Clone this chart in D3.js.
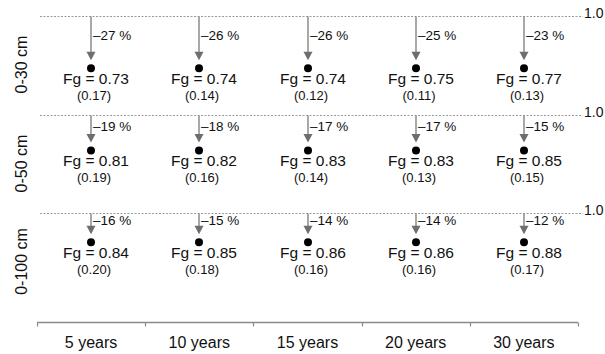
<!DOCTYPE html>
<html lang="en">
<head>
  <meta charset="UTF-8">
  <title>Fg by depth and period</title>
  <script src="https://d3js.org/d3.v7.min.js"></script>
  <style>
    body { margin: 0; background: #fff; }
    text { font-family: "Liberation Sans", Arial, sans-serif; fill: #111; }
  </style>
</head>
<body>
  <svg id="chart" width="605" height="354"></svg>
  <script>
    const periods = ["5 years", "10 years", "15 years", "20 years", "30 years"];
    const depths = ["0-30 cm", "0-50 cm", "0-100 cm"];
    // Fg per depth (rows) and period (columns)
    const fg30 = [0.73, 0.74, 0.74, 0.75, 0.77];
    const fg50 = [0.81, 0.82, 0.83, 0.83, 0.85];
    const fg100 = [0.84, 0.85, 0.86, 0.86, 0.88];
    // values in brackets
    const sd30 = ["0.17", "0.14", "0.12", "0.11", "0.13"];
    const sd50 = ["0.19", "0.16", "0.14", "0.13", "0.15"];
    const sd100 = ["0.20", "0.18", "0.16", "0.16", "0.17"];
    // change labels
    const pct30 = [-27, -26, -26, -25, -23];
    const pct50 = [-19, -18, -17, -17, -15];
    const pct100 = [-16, -15, -14, -14, -12];

    const fgRows = [fg30, fg50, fg100];
    const sdRows = [sd30, sd50, sd100];
    const pctRows = [pct30, pct50, pct100];

    const svg = d3.select("#chart");
    const x = d3.scaleBand().domain(periods).range([37, 578]);
    const panelY = d3.scaleBand().domain(depths).range([16, 312]).align(0);
    // drop below the 1.0 line, px per unit of Fg
    const drop = d3.scaleLinear().domain([1, 0.7]).range([0, 61]);

    depths.forEach((depth, i) => {
      const y0 = Math.round(panelY(depth)) + 0.5;
      const g = svg.append("g");
      const meanFg = d3.mean(fgRows[i]);
      const dotY = y0 + drop(meanFg);
      const tipY = dotY - 8;

      g.append("line")
        .attr("x1", 40).attr("x2", 583)
        .attr("y1", y0).attr("y2", y0)
        .attr("stroke", "#9a9a9a")
        .attr("stroke-width", 1)
        .attr("stroke-dasharray", "2,1.5");

      g.append("text")
        .attr("x", 584).attr("y", y0 + 1)
        .attr("font-size", 14)
        .text("1.0");

      g.append("text")
        .attr("transform", "translate(23," + (y0 + 48) + ") rotate(-90)")
        .attr("text-anchor", "middle")
        .attr("dominant-baseline", "middle")
        .attr("font-size", 16)
        .text(depth);

      const cells = g.selectAll("g.cell")
        .data(periods.map((p, j) => ({ p: p, fg: fgRows[i][j], sd: sdRows[i][j], pct: pctRows[i][j] })))
        .join("g")
        .attr("class", "cell")
        .attr("transform", d => "translate(" + Math.round(x(d.p) + x.bandwidth() / 2) + ",0)");

      cells.append("line")
        .attr("x1", 0).attr("x2", 0)
        .attr("y1", y0).attr("y2", tipY - 8)
        .attr("stroke", "#7a7a7a")
        .attr("stroke-width", 1.3);

      cells.append("path")
        .attr("d", "M-4.5," + (tipY - 8.5) + "L4.5," + (tipY - 8.5) + "L0," + tipY + "Z")
        .attr("fill", "#6e6e6e");

      cells.append("text")
        .attr("x", 2)
        .attr("y", (y0 + tipY) / 2 - 2)
        .attr("dominant-baseline", "middle")
        .attr("font-size", 13.5)
        .text(d => "\u2013" + Math.abs(d.pct) + " %");

      cells.append("circle")
        .attr("cx", 0).attr("cy", dotY)
        .attr("r", 4)
        .attr("fill", "#000");

      cells.append("text")
        .attr("x", 5)
        .attr("y", dotY + 16)
        .attr("text-anchor", "middle")
        .attr("font-size", 15.5)
        .text(d => "Fg = " + d.fg.toFixed(2));

      cells.append("text")
        .attr("x", 3)
        .attr("y", dotY + 31.5)
        .attr("text-anchor", "middle")
        .attr("font-size", 13)
        .text(d => "(" + d.sd + ")");
    });

    // bottom axis with ticks on band edges
    const axisY = 322.5;
    const axis = svg.append("g");
    axis.append("line")
      .attr("x1", x.range()[0]).attr("x2", x.range()[1])
      .attr("y1", axisY).attr("y2", axisY)
      .attr("stroke", "#8a8a8a")
      .attr("stroke-width", 1.5);
    const edges = periods.map(p => x(p)).concat([x.range()[1]]);
    axis.selectAll("line.tick").data(edges)
      .join("line")
      .attr("class", "tick")
      .attr("x1", d => Math.round(d) + 0.5).attr("x2", d => Math.round(d) + 0.5)
      .attr("y1", axisY).attr("y2", axisY + 4)
      .attr("stroke", "#8a8a8a")
      .attr("stroke-width", 1.2);
    axis.selectAll("text").data(periods)
      .join("text")
      .attr("x", d => x(d) + x.bandwidth() / 2)
      .attr("y", 348)
      .attr("text-anchor", "middle")
      .attr("font-size", 16)
      .text(d => d);
  </script>
</body>
</html>
